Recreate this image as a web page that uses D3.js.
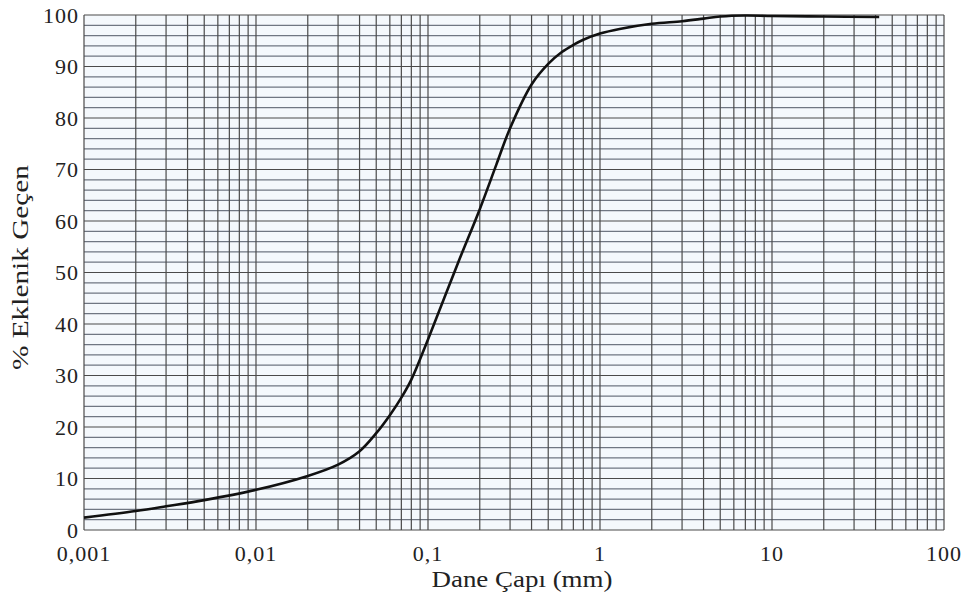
<!DOCTYPE html>
<html>
<head>
<meta charset="utf-8">
<script src="https://cdn.jsdelivr.net/npm/d3@7"></script>
<style>
  body { margin: 0; background: #fff; }
  svg text { font-family: "Liberation Serif", "DejaVu Serif", serif; fill: #222; }
</style>
</head>
<body>
<svg id="chart" width="963" height="601"></svg>
<script>
// grain size (mm) and % passing
const grainSize = [0.001, 0.002, 0.003, 0.005, 0.01, 0.02, 0.03, 0.04, 0.05, 0.06, 0.07, 0.08,
  0.1, 0.15, 0.2, 0.25, 0.3, 0.4, 0.5, 0.6, 0.7, 0.8, 1, 1.3, 2, 3, 4, 5, 7, 10, 20, 42];
const passing = [2.4, 3.7, 4.6, 5.8, 7.8, 10.5, 12.7, 15.3, 18.8, 22.3, 25.7, 29.2,
  37, 52, 62.3, 71, 78, 86.5, 90.5, 92.8, 94.2, 95.2, 96.4, 97.3, 98.3, 98.8, 99.3, 99.7, 99.9, 99.8, 99.7, 99.6];

const xTicks = [0.001, 0.01, 0.1, 1, 10, 100];
const xTickLabels = ["0,001", "0,01", "0,1", "1", "10", "100"];
const yTicks = [0, 10, 20, 30, 40, 50, 60, 70, 80, 90, 100];

const svg = d3.select("#chart"),
  margin = { top: 15, right: 19, bottom: 71, left: 84 },
  plotWidth = 963 - margin.left - margin.right,
  plotHeight = 601 - margin.top - margin.bottom;

const g = svg.append("g").attr("transform", `translate(${margin.left},${margin.top})`);

const x = d3.scaleLog().domain([0.001, 100]).range([0, plotWidth]);
const y = d3.scaleLinear().domain([0, 100]).range([plotHeight, 0]);

g.append("rect")
  .attr("width", plotWidth)
  .attr("height", plotHeight)
  .attr("fill", "#f4f8fc");

// horizontal grid every 2 %
g.append("g").selectAll("line")
  .data(d3.range(0, 101, 2))
  .join("line")
  .attr("x1", 0).attr("x2", plotWidth)
  .attr("y1", d => y(d)).attr("y2", d => y(d))
  .attr("stroke", d => d % 10 === 0 ? "#4a4a4a" : "#6f7682")
  .attr("stroke-width", 1.2);

// vertical grid 1..9 in each decade
const vLines = [];
[0.001, 0.01, 0.1, 1, 10].forEach(dec => d3.range(1, 10).forEach(k => vLines.push(dec * k)));
vLines.push(100);

g.append("g").selectAll("line")
  .data(vLines)
  .join("line")
  .attr("x1", d => x(d)).attr("x2", d => x(d))
  .attr("y1", 0).attr("y2", plotHeight)
  .attr("stroke", "#4a4a4a")
  .attr("stroke-width", 1.2);

// tick labels
g.append("g").selectAll("text")
  .data(yTicks)
  .join("text")
  .attr("x", -5)
  .attr("y", d => y(d) + 7.5)
  .attr("text-anchor", "end")
  .attr("font-size", 22)
  .attr("letter-spacing", 1)
  .text(d => d);

g.append("g").selectAll("text")
  .data(xTicks)
  .join("text")
  .attr("x", d => x(d))
  .attr("y", plotHeight + 31)
  .attr("text-anchor", "middle")
  .attr("font-size", 22)
  .attr("letter-spacing", 1)
  .text((d, i) => xTickLabels[i]);

// axis titles
svg.append("text")
  .attr("x", 522)
  .attr("y", 587)
  .attr("text-anchor", "middle")
  .attr("font-size", 23)
  .attr("textLength", 181)
  .attr("lengthAdjust", "spacingAndGlyphs")
  .text("Dane Çapı (mm)");

svg.append("text")
  .attr("transform", "translate(27.5,267.5) rotate(-90)")
  .attr("text-anchor", "middle")
  .attr("font-size", 23)
  .attr("textLength", 205)
  .attr("lengthAdjust", "spacingAndGlyphs")
  .text("% Eklenik Geçen");

// grading curve
const line = d3.line()
  .x(d => x(d[0]))
  .y(d => y(d[1]))
  .curve(d3.curveCatmullRom.alpha(0.5));

g.append("path")
  .datum(grainSize.map((s, i) => [s, passing[i]]))
  .attr("fill", "none")
  .attr("stroke", "#111")
  .attr("stroke-width", 2.6)
  .attr("d", line);
</script>
</body>
</html>
